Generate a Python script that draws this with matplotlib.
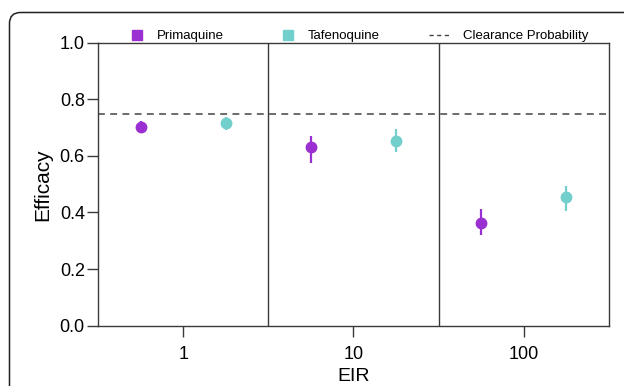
import numpy as np
import matplotlib
matplotlib.use("Agg")
import matplotlib.pyplot as plt
from matplotlib.lines import Line2D
from matplotlib.patches import FancyBboxPatch

plt.rcParams["font.family"] = ["Liberation Sans", "DejaVu Sans"]

# ---------------------------------------------------------------------------
# Data
# ---------------------------------------------------------------------------
eir = [1, 10, 100]
eir_labels = ["1", "10", "100"]

prim_mean = [0.702, 0.632, 0.363]
prim_low = [0.680, 0.575, 0.320]
prim_high = [0.723, 0.671, 0.412]

tafe_mean = [0.718, 0.654, 0.456]
tafe_low = [0.692, 0.615, 0.407]
tafe_high = [0.739, 0.696, 0.494]

clearance_prob = 0.75

purple = "#9A30D2"
teal = "#72CFCC"
spine_col = "#3a3a3a"

W, H = 624, 386

# ---------------------------------------------------------------------------
# Figure
# ---------------------------------------------------------------------------
fig = plt.figure(figsize=(W / 100, H / 100), dpi=100)
ax = fig.add_axes([0.157, 0.1567, 0.819, 0.732])

# card frame around the panel (rounded top-left corner, runs off the edges)
card = FancyBboxPatch((0.095, -1.0), 7.0, 4.735,
                      boxstyle="round,pad=0,rounding_size=0.11",
                      transform=fig.dpi_scale_trans, fill=False,
                      edgecolor="#222222", linewidth=1.1, clip_on=False)
fig.patches.append(card)

eir = np.array(eir, dtype=float)
offset = 10 ** 0.25   # quarter-decade dodge either side of each EIR


def draw_series(x, mean, low, high, color):
    mean = np.asarray(mean)
    yerr = [mean - np.asarray(low), np.asarray(high) - mean]
    ax.errorbar(x, mean, yerr=yerr, fmt="o", color=color, ecolor=color,
                markersize=7.5, elinewidth=1.6, capsize=0, zorder=3)


draw_series(eir / offset, prim_mean, prim_low, prim_high, purple)
draw_series(eir * offset, tafe_mean, tafe_low, tafe_high, teal)

ax.axhline(clearance_prob, color="#444444", linestyle=(0, (4.5, 3.5)),
           linewidth=1.1, zorder=1)

# separators between EIR groups
for sep in eir[:-1] * np.sqrt(10):
    ax.axvline(sep, color=spine_col, linewidth=1.0, zorder=1)

ax.set_xscale("log")
ax.set_xlim(10 ** -0.5, 10 ** 2.5)
ax.set_ylim(0, 1.0)
ax.set_xticks(eir)
ax.set_xticklabels(eir_labels)
ax.xaxis.set_minor_locator(matplotlib.ticker.NullLocator())
ax.set_yticks(np.arange(0, 1.01, 0.2))
ax.set_yticklabels([f"{v:.1f}" for v in np.arange(0, 1.01, 0.2)])

for s in ax.spines.values():
    s.set_color(spine_col)
    s.set_linewidth(1.0)
ax.tick_params(axis="both", colors=spine_col, labelcolor="black",
               labelsize=13, length=8, width=1.0)
ax.tick_params(axis="y", pad=1.5)
ax.tick_params(axis="x", pad=7)

ax.set_xlabel("EIR", fontsize=14, labelpad=3)
ax.set_ylabel("Efficacy", fontsize=15, labelpad=5)

# legend above the axes, entries placed by figure pixel position
legend_y = 1 - 35 / H
entries = [
    (137, 157, "Primaquine", "square", purple),
    (288, 308, "Tafenoquine", "square", teal),
    (440, 463, "Clearance Probability", "dash", "#444444"),
]
for hx, tx, label, kind, col in entries:
    if kind == "square":
        fig.add_artist(Line2D([hx / W], [legend_y], marker="s",
                              linestyle="none", color=col, markersize=7,
                              transform=fig.transFigure))
    else:
        fig.add_artist(Line2D([(hx - 11) / W, (hx + 11) / W],
                              [legend_y, legend_y], color=col,
                              linestyle=(0, (3, 2.5)), linewidth=1.0,
                              transform=fig.transFigure))
    fig.text(tx / W, legend_y, label, fontsize=9.5, ha="left",
             va="center_baseline")

fig.savefig("out.png", dpi=100)
